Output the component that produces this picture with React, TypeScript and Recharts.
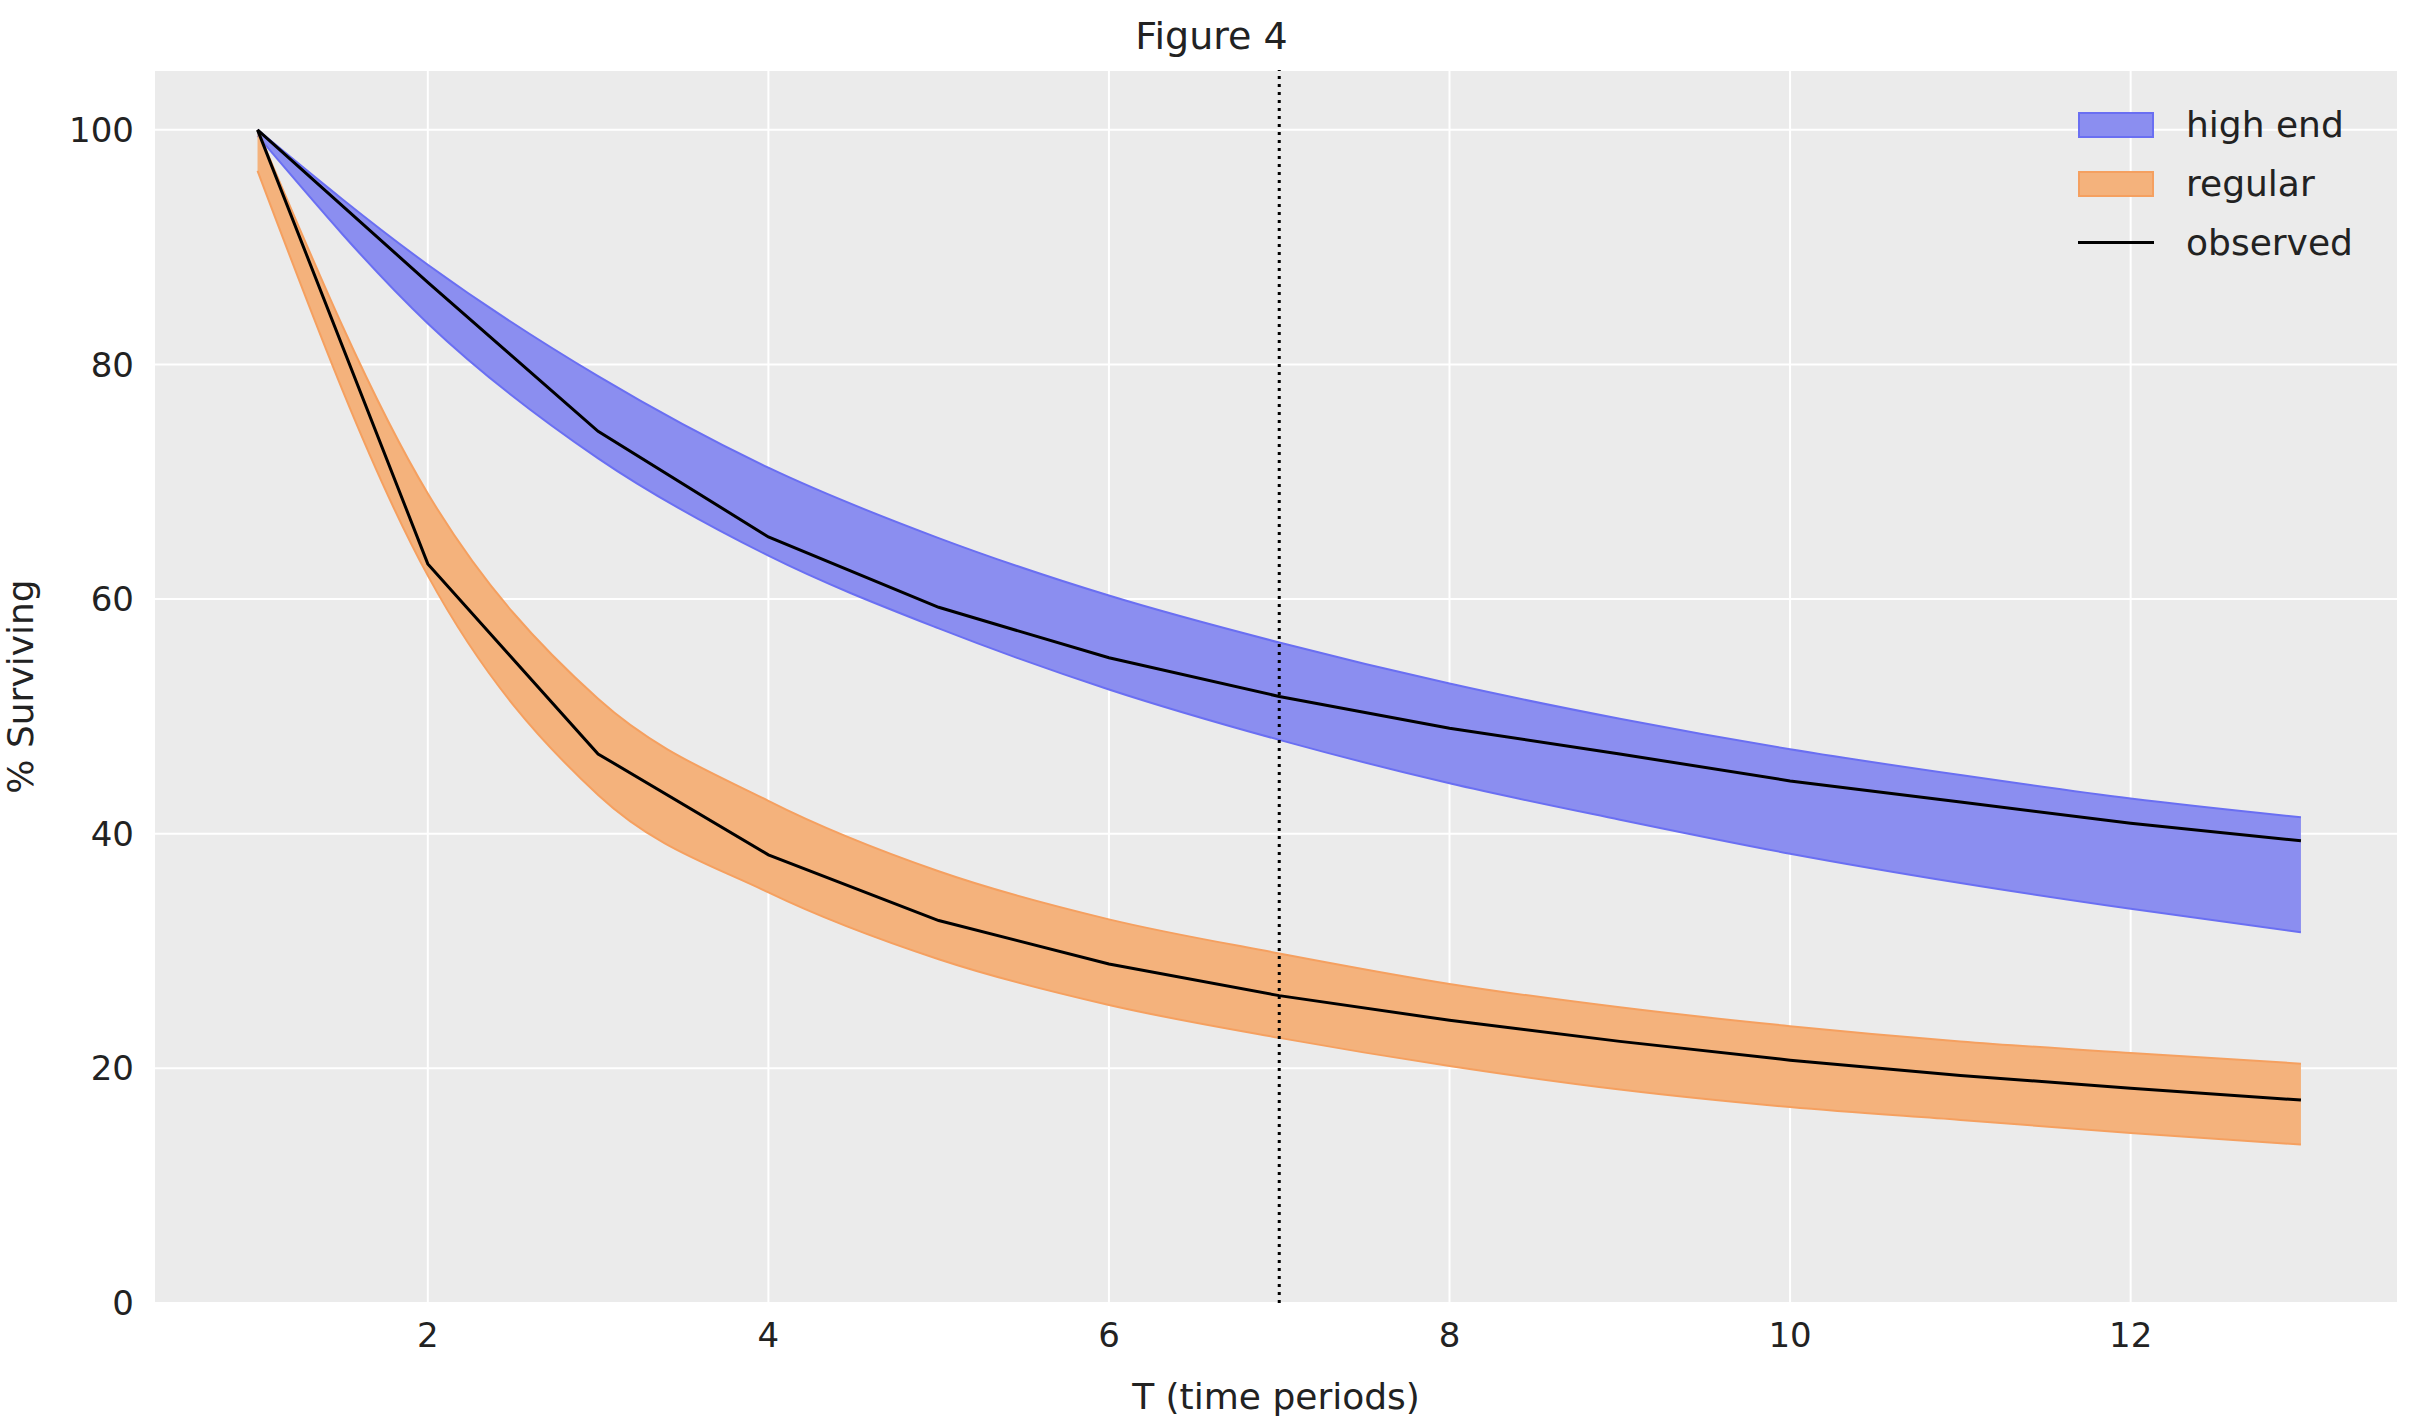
import React from "react";
import { ComposedChart, Area, Line, XAxis, YAxis, CartesianGrid, ReferenceLine } from "recharts";

const periods = [1, 2, 3, 4, 5, 6, 7, 8, 9, 10, 11, 12, 13];
const highObserved = [100, 87, 74.3, 65.3, 59.3, 55, 51.7, 49, 46.8, 44.5, 42.7, 40.9, 39.4];
const highUpper = [100, 88.5, 79, 71.2, 65.2, 60.3, 56.3, 52.8, 49.8, 47.2, 45, 43, 41.4];
const highLower = [99.5, 83.5, 72, 63.7, 57.5, 52.3, 48, 44.3, 41.2, 38.3, 35.8, 33.6, 31.6];
const regObserved = [100, 63, 46.8, 38.2, 32.6, 28.9, 26.2, 24.1, 22.3, 20.7, 19.4, 18.3, 17.3];
const regUpper = [100, 69, 51.5, 42.8, 36.8, 32.7, 29.8, 27.2, 25.2, 23.6, 22.3, 21.3, 20.4];
const regLower = [96.5, 62, 43.3, 35, 29.3, 25.4, 22.6, 20.2, 18.2, 16.7, 15.6, 14.5, 13.5];
const xTicks = [2, 4, 6, 8, 10, 12];
const yTicks = [0, 20, 40, 60, 80, 100];

const data = periods.map((t, i) => ({
  t,
  high: [highLower[i], highUpper[i]],
  reg: [regLower[i], regUpper[i]],
  highObs: highObserved[i],
  regObs: regObserved[i],
}));

const font = "DejaVu Sans";
const tick = { fontSize: 34, fill: "#222", fontFamily: font };

export default function App() {
  return (
    <div style={{ position: "absolute", left: 0, top: 0, width: 2423, height: 1423, background: "#fff", fontFamily: font }}>
      <div style={{ position: "absolute", top: 14, width: "100%", textAlign: "center", fontSize: 38, color: "#222" }}>Figure 4</div>
      <ComposedChart width={2423} height={1423} data={data} margin={{ left: 0, right: 25, top: 70, bottom: 0 }}>
        <CartesianGrid stroke="#fff" strokeWidth={2} fill="#ebebeb" fillOpacity={1} />
        <XAxis type="number" dataKey="t" domain={[0.392, 13.57]} ticks={xTicks} axisLine={false} tickLine={false} tick={tick} tickMargin={14} height={120}
          label={{ value: "T (time periods)", position: "insideBottom", offset: 14, fontSize: 36, fill: "#222", fontFamily: font }} />
        <YAxis type="number" domain={[0, 105.1]} ticks={yTicks} axisLine={false} tickLine={false} tick={tick} tickMargin={14} width={154}
          label={{ value: "% Surviving", angle: -90, position: "insideLeft", offset: 20, fontSize: 36, fill: "#222", fontFamily: font, style: { textAnchor: "middle" } }} />
        <Area dataKey="high" type="monotone" fill="#8b8ef0" fillOpacity={1} stroke="#6a6ff2" strokeWidth={2} isAnimationActive={false} />
        <Area dataKey="reg" type="monotone" fill="#f4b27c" fillOpacity={1} stroke="#f5a060" strokeWidth={2} isAnimationActive={false} />
        <Line dataKey="highObs" type="linear" stroke="#000" strokeWidth={3} dot={false} isAnimationActive={false} />
        <Line dataKey="regObs" type="linear" stroke="#000" strokeWidth={3} dot={false} isAnimationActive={false} />
        <ReferenceLine x={7} stroke="#000" strokeWidth={3} strokeDasharray="3 5" />
      </ComposedChart>
      <div style={{ position: "absolute", left: 2078, top: 95, fontSize: 36, color: "#222", lineHeight: "59px" }}>
        {[
          { label: "high end", el: <div style={{ width: 76, height: 26, background: "#8b8ef0", border: "2px solid #6a6ff2", boxSizing: "border-box" }} /> },
          { label: "regular", el: <div style={{ width: 76, height: 26, background: "#f4b27c", border: "2px solid #f5a060", boxSizing: "border-box" }} /> },
          { label: "observed", el: <div style={{ width: 76, height: 3, background: "#000" }} /> },
        ].map((r) => (
          <div key={r.label} style={{ display: "flex", alignItems: "center", height: 59 }}>
            <div style={{ width: 76, display: "flex", justifyContent: "center" }}>{r.el}</div>
            <span style={{ marginLeft: 32 }}>{r.label}</span>
          </div>
        ))}
      </div>
    </div>
  );
}
